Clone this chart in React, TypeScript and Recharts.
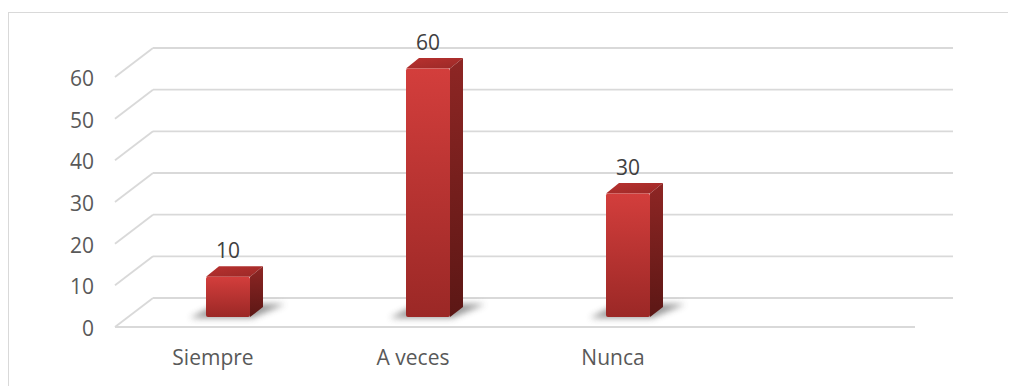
import React from 'react';
import {
  BarChart,
  Bar,
  XAxis,
  YAxis,
  CartesianGrid,
  LabelList,
  ReferenceLine,
} from 'recharts';

const categories = ['Siempre', 'A veces', 'Nunca', ''];
const values: (number | null)[] = [10, 60, 30, null];
const yTicks = [0, 10, 20, 30, 40, 50, 60];

const data = categories.map((name, i) => ({ name, value: values[i] }));

// fake 3D: the plot area is the bars' front plane, the floor edge sits in
// front of it and the back wall behind it
const FRONT = { dx: -13, dy: 10 };
const BACK = { dx: 25, dy: -19 };
const DEPTH = { dx: 13, dy: -10 };

const GRID = '#d9d9d9';
const FONT = '"Open Sans", sans-serif';

const WallLine = (props: any) => {
  const { x1, x2, y1, index } = props;
  return (
    <g key={`wall-${index}`}>
      <line
        x1={x1 + FRONT.dx}
        y1={y1 + FRONT.dy}
        x2={x1 + BACK.dx}
        y2={y1 + BACK.dy}
        stroke={GRID}
        strokeWidth={1.8}
      />
      <line
        x1={x1 + BACK.dx}
        y1={y1 + BACK.dy}
        x2={x2 + BACK.dx}
        y2={y1 + BACK.dy}
        stroke={GRID}
        strokeWidth={1.8}
      />
    </g>
  );
};

const FloorEdge = (props: any) => {
  const { x1, x2, y1 } = props;
  return (
    <line
      x1={x1 + FRONT.dx}
      y1={y1 + FRONT.dy}
      x2={x2 + FRONT.dx}
      y2={y1 + FRONT.dy}
      stroke={GRID}
      strokeWidth={1.8}
    />
  );
};

const Bar3D = (props: any) => {
  const { x, y, width, height } = props;
  if (!height) return null;
  const { dx, dy } = DEPTH;
  const r = x + width;
  const b = y + height;
  return (
    <g>
      <polygon
        points={`${x - 16},${b + 1} ${r + 2},${b + 1} ${r + dx + 22},${b + dy - 3} ${x + dx - 2},${b + dy - 3}`}
        fill="#555"
        opacity={0.6}
        filter="url(#floorShadow)"
      />
      <polygon
        points={`${x},${y + 1.5} ${x + dx},${y + dy + 1} ${r + dx},${y + dy + 1} ${r},${y + 1.5}`}
        fill="url(#topFace)"
      />
      <polygon
        points={`${r},${y + 1.5} ${r + dx},${y + dy + 1} ${r + dx},${b + dy} ${r},${b}`}
        fill="url(#sideFace)"
      />
      <rect x={x} y={y + 1.5} width={width} height={height - 1.5} rx={2} fill="url(#frontFace)" />
    </g>
  );
};

const FrontTick = (props: any) => {
  const { x, y, payload } = props;
  return (
    <text
      x={x + FRONT.dx - 21}
      y={y + FRONT.dy + 9}
      textAnchor="end"
      fill="#595959"
      fontSize={21}
      fontFamily={FONT}
    >
      {payload.value}
    </text>
  );
};

const CategoryTick = (props: any) => {
  const { x, y, payload } = props;
  return (
    <text
      x={x - 15}
      y={y + 48}
      textAnchor="middle"
      fill="#595959"
      fontSize={21}
      fontFamily={FONT}
    >
      {payload.value}
    </text>
  );
};

const ValueLabel = (props: any) => {
  const { x, y, width, value } = props;
  if (value == null) return null;
  return (
    <text
      x={x + width / 2}
      y={y - 17}
      textAnchor="middle"
      fill="#404040"
      fontSize={21}
      fontFamily={FONT}
    >
      {value}
    </text>
  );
};

export default function App() {
  return (
    <div style={{ width: 1008, height: 378, position: 'relative', overflow: 'hidden' }}>
      <div
        style={{
          position: 'absolute',
          left: 0,
          top: 4,
          width: 1100,
          height: 500,
          border: '1px solid #d9d9d9',
          boxSizing: 'border-box',
        }}
      />
      <BarChart
        width={1008}
        height={378}
        data={data}
        margin={{ top: 59, right: 88, left: 0, bottom: 0 }}
        barSize={44}
        style={{ position: 'absolute', left: 0, top: 0 }}
      >
        <defs>
          <linearGradient id="frontFace" x1="0" y1="0" x2="0" y2="1">
            <stop offset="0%" stopColor="#d33e3c" />
            <stop offset="100%" stopColor="#9b2826" />
          </linearGradient>
          <linearGradient id="sideFace" x1="0" y1="0" x2="0" y2="1">
            <stop offset="0%" stopColor="#8e2624" />
            <stop offset="100%" stopColor="#5c1715" />
          </linearGradient>
          <linearGradient id="topFace" x1="0" y1="0" x2="1" y2="1">
            <stop offset="0%" stopColor="#b9312f" />
            <stop offset="100%" stopColor="#9a2927" />
          </linearGradient>
          <filter id="floorShadow" x="-30%" y="-100%" width="160%" height="300%">
            <feGaussianBlur stdDeviation="3" />
          </filter>
        </defs>
        <CartesianGrid vertical={false} horizontal={WallLine} />
        <ReferenceLine y={0} shape={FloorEdge} />
        <XAxis
          dataKey="name"
          axisLine={false}
          tickLine={false}
          tickSize={0}
          tickMargin={0}
          height={69}
          interval={0}
          tick={<CategoryTick />}
        />
        <YAxis
          domain={[0, 60]}
          ticks={yTicks}
          axisLine={false}
          tickLine={false}
          tickSize={0}
          tickMargin={0}
          width={120}
          tick={<FrontTick />}
        />
        <Bar dataKey="value" shape={<Bar3D />} isAnimationActive={false}>
          <LabelList dataKey="value" content={<ValueLabel />} />
        </Bar>
      </BarChart>
    </div>
  );
}
